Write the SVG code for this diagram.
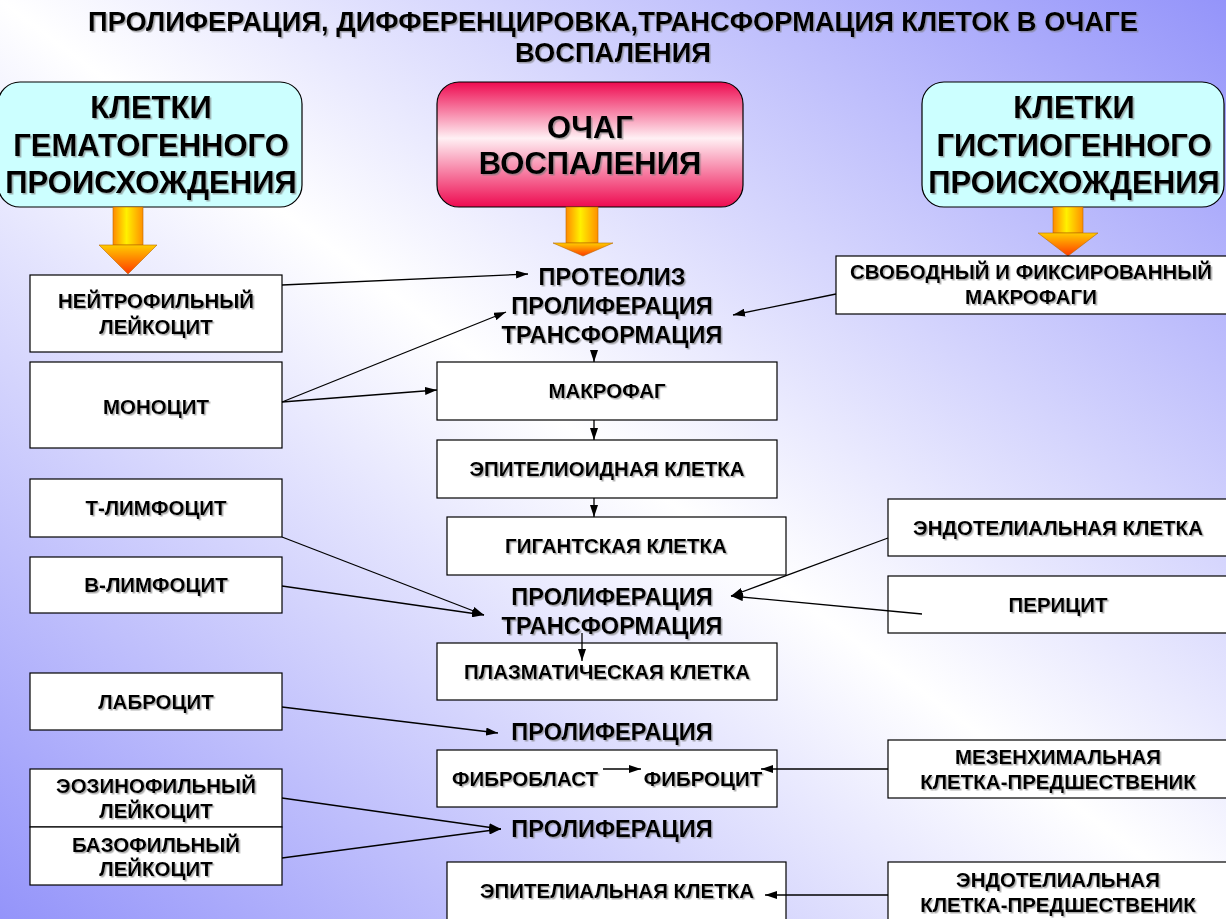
<svg xmlns="http://www.w3.org/2000/svg" width="1226" height="919" viewBox="0 0 1226 919">
<defs>
<linearGradient id="bg" x1="0" y1="1" x2="1" y2="0">
<stop offset="0" stop-color="#9494fa"/>
<stop offset="0.5" stop-color="#ffffff"/>
<stop offset="1" stop-color="#9494fa"/>
</linearGradient>
<linearGradient id="red" x1="0" y1="0" x2="0" y2="1">
<stop offset="0" stop-color="#ee0a50"/>
<stop offset="0.45" stop-color="#fff0f4"/>
<stop offset="1" stop-color="#ee0a50"/>
</linearGradient>
<linearGradient id="shaft" x1="0" y1="0" x2="1" y2="0">
<stop offset="0" stop-color="#ff8a00"/>
<stop offset="0.45" stop-color="#fff000"/>
<stop offset="1" stop-color="#ff9000"/>
</linearGradient>
<linearGradient id="head" x1="0" y1="0" x2="0" y2="1">
<stop offset="0" stop-color="#ffcc00"/>
<stop offset="1" stop-color="#ff3a00"/>
</linearGradient>
<marker id="ah" viewBox="0 0 12 8" refX="12" refY="4" markerWidth="12" markerHeight="8" markerUnits="userSpaceOnUse" orient="auto">
<path d="M0,0 L12,4 L0,8 z" fill="#000"/>
</marker>
<filter id="sh" x="-5%" y="-20%" width="110%" height="150%">
<feDropShadow dx="1.5" dy="1.5" stdDeviation="0.5" flood-color="#777" flood-opacity="0.6"/>
</filter>
</defs>
<style>
text{font-family:"Liberation Sans",Arial,sans-serif;font-weight:bold;fill:#000;text-anchor:middle;filter:url(#sh)}
.t{font-size:27.3px}
.big{font-size:31px}
.mid{font-size:23.6px}
.sm{font-size:20.5px}
.box{fill:#fff;stroke:#000;stroke-width:1.2}
.cyan{fill:#ccffff;stroke:#000;stroke-width:1.2}
.con{fill:none;stroke:#000;stroke-width:1.3;marker-end:url(#ah)}
.bs{fill:url(#shaft);stroke:#b86a00;stroke-width:0.6}
.bh{fill:url(#head);stroke:#b86a00;stroke-width:0.6}
</style>
<rect x="0" y="0" width="1226" height="919" fill="url(#bg)"/>

<g id="title">
<text class="t" x="613" y="31">ПРОЛИФЕРАЦИЯ, ДИФФЕРЕНЦИРОВКА,ТРАНСФОРМАЦИЯ КЛЕТОК В ОЧАГЕ</text>
<text class="t" x="613" y="62">ВОСПАЛЕНИЯ</text>
</g>

<g id="hemato">
<rect class="cyan" x="-2" y="82" width="304" height="125" rx="22"/>
<text class="big" x="151" y="118">КЛЕТКИ</text>
<text class="big" x="151" y="156">ГЕМАТОГЕННОГО</text>
<text class="big" x="151" y="193">ПРОИСХОЖДЕНИЯ</text>
</g>
<g id="focus">
<rect x="437" y="82" width="306" height="125" rx="22" fill="url(#red)" stroke="#000" stroke-width="1.2"/>
<text class="big" x="590" y="138">ОЧАГ</text>
<text class="big" x="590" y="174">ВОСПАЛЕНИЯ</text>
</g>
<g id="histio">
<rect class="cyan" x="922" y="82" width="302" height="125" rx="22"/>
<text class="big" x="1074" y="118">КЛЕТКИ</text>
<text class="big" x="1074" y="156">ГИСТИОГЕННОГО</text>
<text class="big" x="1074" y="193">ПРОИСХОЖДЕНИЯ</text>
</g>

<g id="blockarrows">
<rect class="bs" x="113" y="207" width="30" height="38"/>
<path class="bh" d="M99,245 L157,245 L128,274 z"/>
<rect class="bs" x="566" y="207" width="32" height="36"/>
<path class="bh" d="M553,243 L613,243 L583,256 z"/>
<rect class="bs" x="1053" y="207" width="30" height="26"/>
<path class="bh" d="M1038,233 L1098,233 L1068,256 z"/>
</g>

<g id="neutrophil">
<rect class="box" x="30" y="275" width="252" height="77"/>
<text class="sm" x="156" y="308">НЕЙТРОФИЛЬНЫЙ</text>
<text class="sm" x="156" y="334">ЛЕЙКОЦИТ</text>
</g>
<g id="monocyte">
<rect class="box" x="30" y="362" width="252" height="86"/>
<text class="sm" x="156" y="414">МОНОЦИТ</text>
</g>
<g id="tlymph">
<rect class="box" x="30" y="479" width="252" height="58"/>
<text class="sm" x="156" y="515">Т-ЛИМФОЦИТ</text>
</g>
<g id="blymph">
<rect class="box" x="30" y="557" width="252" height="56"/>
<text class="sm" x="156" y="592">В-ЛИМФОЦИТ</text>
</g>
<g id="labrocyte">
<rect class="box" x="30" y="673" width="252" height="57"/>
<text class="sm" x="156" y="709">ЛАБРОЦИТ</text>
</g>
<g id="eosinophil">
<rect class="box" x="30" y="769" width="252" height="58"/>
<text class="sm" x="156" y="793">ЭОЗИНОФИЛЬНЫЙ</text>
<text class="sm" x="156" y="818">ЛЕЙКОЦИТ</text>
</g>
<g id="basophil">
<rect class="box" x="30" y="827" width="252" height="58"/>
<text class="sm" x="156" y="852">БАЗОФИЛЬНЫЙ</text>
<text class="sm" x="156" y="876">ЛЕЙКОЦИТ</text>
</g>

<g id="proc1">
<text class="mid" x="612" y="285">ПРОТЕОЛИЗ</text>
<text class="mid" x="612" y="314">ПРОЛИФЕРАЦИЯ</text>
<text class="mid" x="612" y="343">ТРАНСФОРМАЦИЯ</text>
</g>
<g id="macrophage">
<rect class="box" x="437" y="362" width="340" height="58"/>
<text class="sm" x="607" y="398">МАКРОФАГ</text>
</g>
<g id="epithelioid">
<rect class="box" x="437" y="440" width="340" height="58"/>
<text class="sm" x="607" y="476">ЭПИТЕЛИОИДНАЯ КЛЕТКА</text>
</g>
<g id="giant">
<rect class="box" x="447" y="517" width="339" height="58"/>
<text class="sm" x="616" y="553">ГИГАНТСКАЯ КЛЕТКА</text>
</g>
<g id="proc2">
<text class="mid" x="612" y="605">ПРОЛИФЕРАЦИЯ</text>
<text class="mid" x="612" y="634">ТРАНСФОРМАЦИЯ</text>
</g>
<g id="plasma">
<rect class="box" x="437" y="643" width="340" height="57"/>
<text class="sm" x="607" y="679">ПЛАЗМАТИЧЕСКАЯ КЛЕТКА</text>
</g>
<g id="proc3">
<text class="mid" x="612" y="740">ПРОЛИФЕРАЦИЯ</text>
</g>
<g id="fibro">
<rect class="box" x="437" y="750" width="340" height="57"/>
<text class="sm" x="525" y="786">ФИБРОБЛАСТ</text>
<text class="sm" x="703" y="786">ФИБРОЦИТ</text>
</g>
<g id="proc4">
<text class="mid" x="612" y="837">ПРОЛИФЕРАЦИЯ</text>
</g>
<g id="epithelial">
<rect class="box" x="447" y="862" width="339" height="70"/>
<text class="sm" x="617" y="898">ЭПИТЕЛИАЛЬНАЯ КЛЕТКА</text>
</g>

<g id="freemacro">
<rect class="box" x="836" y="256" width="395" height="58"/>
<text class="sm" x="1031" y="279">СВОБОДНЫЙ И ФИКСИРОВАННЫЙ</text>
<text class="sm" x="1031" y="304">МАКРОФАГИ</text>
</g>
<g id="endothelial">
<rect class="box" x="888" y="499" width="343" height="57"/>
<text class="sm" x="1058" y="535">ЭНДОТЕЛИАЛЬНАЯ КЛЕТКА</text>
</g>
<g id="pericyte">
<rect class="box" x="888" y="576" width="343" height="57"/>
<text class="sm" x="1058" y="612">ПЕРИЦИТ</text>
</g>
<g id="mesenchymal">
<rect class="box" x="888" y="740" width="343" height="58"/>
<text class="sm" x="1058" y="764">МЕЗЕНХИМАЛЬНАЯ</text>
<text class="sm" x="1058" y="789">КЛЕТКА-ПРЕДШЕСТВЕНИК</text>
</g>
<g id="endoprec">
<rect class="box" x="888" y="862" width="343" height="70"/>
<text class="sm" x="1058" y="887">ЭНДОТЕЛИАЛЬНАЯ</text>
<text class="sm" x="1058" y="912">КЛЕТКА-ПРЕДШЕСТВЕНИК</text>
</g>

<g id="connectors">
<line class="con" x1="282" y1="285" x2="528" y2="274"/>
<line class="con" x1="282" y1="402" x2="506" y2="312"/>
<line class="con" x1="282" y1="402" x2="437" y2="390"/>
<line class="con" x1="836" y1="294" x2="733" y2="315"/>
<line class="con" x1="594" y1="352" x2="594" y2="362"/>
<line class="con" x1="594" y1="420" x2="594" y2="440"/>
<line class="con" x1="594" y1="498" x2="594" y2="517"/>
<line class="con" x1="282" y1="537" x2="484" y2="615"/>
<line class="con" x1="282" y1="586" x2="484" y2="615"/>
<line class="con" x1="888" y1="538" x2="731" y2="596"/>
<line class="con" x1="922" y1="614" x2="731" y2="596"/>
<line class="con" x1="582" y1="633" x2="582" y2="661"/>
<line class="con" x1="282" y1="707" x2="498" y2="733"/>
<line class="con" x1="603" y1="769" x2="641" y2="769"/>
<line class="con" x1="888" y1="769" x2="761" y2="769"/>
<line class="con" x1="282" y1="798" x2="501" y2="829"/>
<line class="con" x1="282" y1="858" x2="501" y2="829"/>
<line class="con" x1="888" y1="895" x2="765" y2="895"/>
</g>
</svg>
